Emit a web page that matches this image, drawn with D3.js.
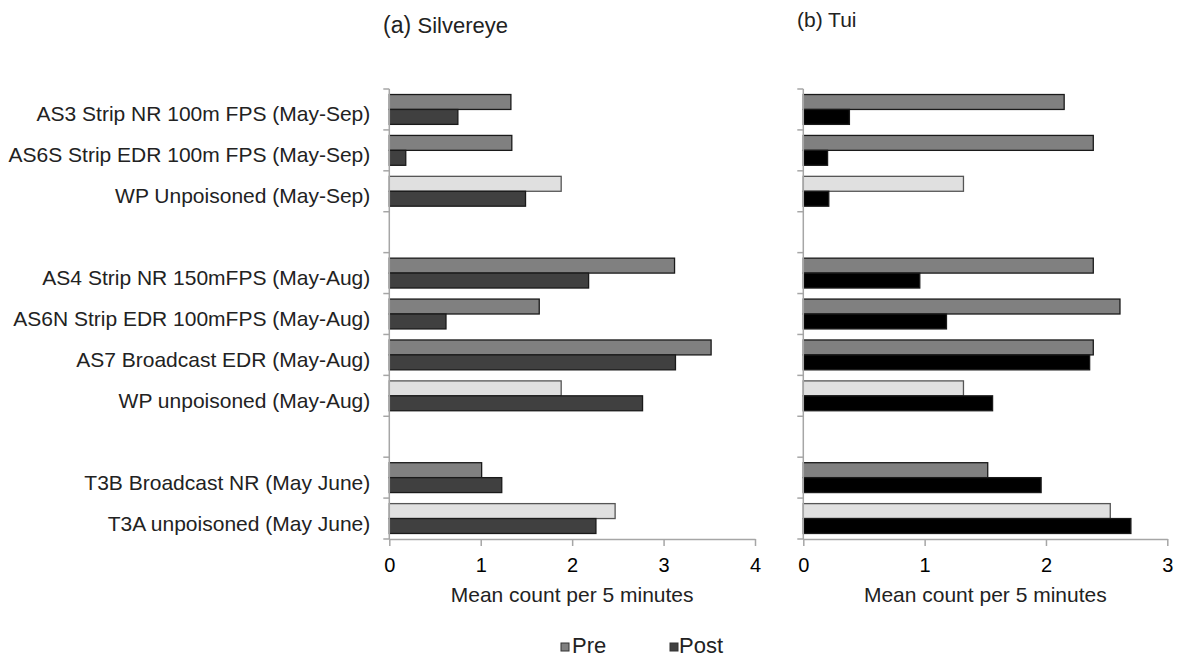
<!DOCTYPE html>
<html>
<head>
<meta charset="utf-8">
<script src="https://cdn.jsdelivr.net/npm/d3@7"></script>
<style>
  html, body { margin: 0; padding: 0; background: #fff; }
  svg { display: block; font-family: "Liberation Sans", Arial, sans-serif; }
</style>
</head>
<body>
<svg id="chart" width="1179" height="657"></svg>
<script>
// ---- data ----
const categories = [
  "AS3 Strip NR 100m FPS (May-Sep)",
  "AS6S Strip EDR 100m FPS (May-Sep)",
  "WP Unpoisoned (May-Sep)",
  "",
  "AS4 Strip NR 150mFPS (May-Aug)",
  "AS6N Strip EDR 100mFPS (May-Aug)",
  "AS7 Broadcast EDR (May-Aug)",
  "WP unpoisoned (May-Aug)",
  "",
  "T3B Broadcast NR (May June)",
  "T3A unpoisoned (May June)"
];
const unpoisoned = [false, false, true, false, false, false, false, true, false, false, true];
const silvereyePre  = [1.33, 1.34, 1.88, null, 3.12, 1.64, 3.52, 1.88, null, 1.01, 2.47];
const silvereyePost = [0.75, 0.18, 1.49, null, 2.18, 0.62, 3.13, 2.77, null, 1.23, 2.26];
const tuiPre  = [2.15, 2.39, 1.32, null, 2.39, 2.61, 2.39, 1.32, null, 1.52, 2.53];
const tuiPost = [0.38, 0.20, 0.21, null, 0.96, 1.18, 2.36, 1.56, null, 1.96, 2.70];
const silvereyeTicks = [0, 1, 2, 3, 4];
const tuiTicks = [0, 1, 2, 3];
const seriesNames = ["Pre", "Post"];
const xTitle = "Mean count per 5 minutes";

// ---- layout ----
const svg = d3.select("#chart");
const plotTop = 89, plotBottom = 539;
const idx = d3.range(categories.length);
const y = d3.scaleBand().domain(idx).range([plotTop, plotBottom]).paddingInner(0.27).paddingOuter(0.135);
const step = y.step();
const boundaries = d3.range(categories.length + 1).map(i => plotTop + i * step);

const axisColor = "#a6a6a6";
const preFill = "#808080", postFillA = "#404040", postFillB = "#000000", lightFill = "#e0e0e0";

function panel(opts) {
  const x = d3.scaleLinear().domain([0, d3.max(opts.ticks)]).range([opts.x0, opts.x1]);
  const g = svg.append("g");

  // bars
  const h = y.bandwidth() / 2;
  idx.forEach(i => {
    if (opts.pre[i] == null) return;
    g.append("rect")
      .attr("x", x(0)).attr("y", y(i))
      .attr("width", x(opts.pre[i]) - x(0)).attr("height", h)
      .attr("fill", unpoisoned[i] ? lightFill : preFill)
      .attr("stroke", unpoisoned[i] ? "#555" : "#1a1a1a")
      .attr("stroke-width", 1.3);
    g.append("rect")
      .attr("x", x(0)).attr("y", y(i) + h)
      .attr("width", x(opts.post[i]) - x(0)).attr("height", h)
      .attr("fill", opts.postFill)
      .attr("stroke", "#1a1a1a")
      .attr("stroke-width", 1.3);
  });

  // y axis line + ticks
  g.append("line").attr("x1", x(0)).attr("x2", x(0)).attr("y1", plotTop).attr("y2", plotBottom)
    .attr("stroke", axisColor).attr("stroke-width", 1.5);
  boundaries.forEach(b => {
    g.append("line").attr("x1", x(0) - 6).attr("x2", x(0)).attr("y1", b).attr("y2", b)
      .attr("stroke", axisColor).attr("stroke-width", 1.5);
  });

  // x axis
  const ax = g.append("g").attr("transform", `translate(0,${plotBottom})`)
    .call(d3.axisBottom(x).tickValues(opts.ticks).tickFormat(d3.format("d")).tickSize(7).tickPadding(12).tickSizeOuter(0));
  ax.select(".domain").attr("stroke", axisColor).attr("stroke-width", 1.5);
  ax.selectAll(".tick line").attr("stroke", axisColor).attr("stroke-width", 1.5);
  ax.selectAll(".tick text").attr("fill", "#000").style("font-size", "20px").style("font-family", "Liberation Sans, Arial, sans-serif");

  g.append("text").attr("x", (opts.x0 + opts.x1) / 2).attr("y", 602)
    .attr("text-anchor", "middle").style("font-size", "21px").attr("fill", "#222")
    .text(xTitle);

  if (opts.labels) {
    idx.forEach(i => {
      if (!categories[i]) return;
      g.append("text").attr("x", x(0) - 19).attr("y", y(i) + y.bandwidth() / 2 + 12)
        .attr("text-anchor", "end").style("font-size", "21px").attr("fill", "#222")
        .text(categories[i]);
    });
  }
  return x;
}

panel({ x0: 389.3, x1: 755, ticks: silvereyeTicks, pre: silvereyePre, post: silvereyePost, postFill: postFillA, labels: true });
panel({ x0: 803.3, x1: 1167.3, ticks: tuiTicks, pre: tuiPre, post: tuiPost, postFill: postFillB, labels: false });

// titles
const t1 = svg.append("text").attr("x", 383).attr("y", 33).attr("fill", "#222");
t1.append("tspan").style("font-size", "23px").text("(a) ");
t1.append("tspan").style("font-size", "22px").text("Silvereye");
svg.append("text").attr("x", 797).attr("y", 27).attr("fill", "#222").style("font-size", "21px").text("(b) Tui");

// legend
const legend = [
  { name: seriesNames[0], fill: preFill, sx: 561, tx: 572 },
  { name: seriesNames[1], fill: postFillA, sx: 670, tx: 679 }
];
legend.forEach(l => {
  svg.append("rect").attr("x", l.sx).attr("y", 643).attr("width", 8).attr("height", 8)
    .attr("fill", l.fill).attr("stroke", "#333").attr("stroke-width", 1);
  svg.append("text").attr("x", l.tx).attr("y", 653).style("font-size", "22px").attr("fill", "#222").text(l.name);
});
</script>
</body>
</html>
